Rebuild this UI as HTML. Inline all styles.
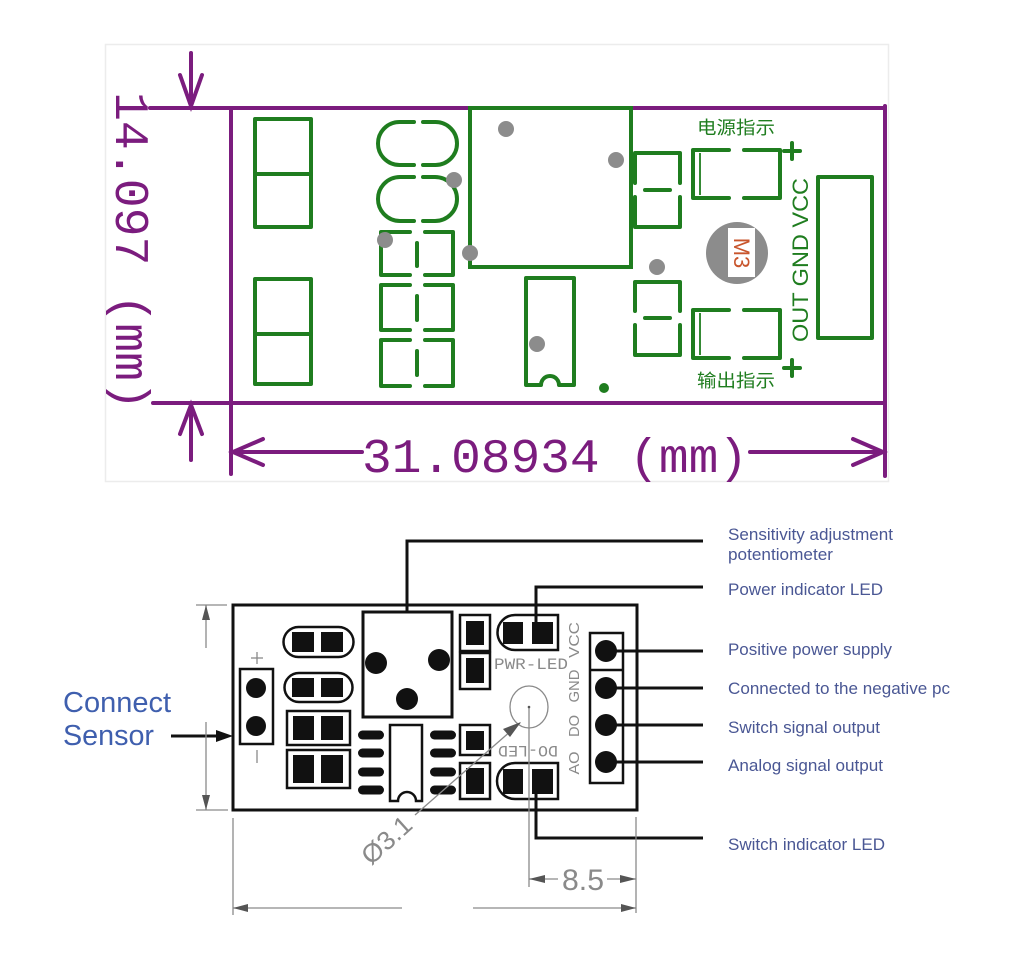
<!DOCTYPE html>
<html><head><meta charset="utf-8"><style>
html,body{margin:0;padding:0;background:#fff;}
svg{display:block;}
</style></head><body>
<svg width="1024" height="961" viewBox="0 0 1024 961" xmlns="http://www.w3.org/2000/svg">
<rect width="1024" height="961" fill="#fff"/>
<!-- faint frame -->
<rect x="105.5" y="44.5" width="783" height="437" fill="none" stroke="#ececec" stroke-width="1.5"/>

<!-- ===== TOP (purple/green) ===== -->
<g stroke="#7b1c7e" stroke-width="4" fill="none" stroke-linecap="round">
  <line x1="150" y1="108" x2="470" y2="108"/>
  <line x1="631" y1="108" x2="885" y2="108"/>
  <line x1="231" y1="108" x2="231" y2="474"/>
  <line x1="885" y1="106" x2="885" y2="476"/>
  <line x1="153" y1="403" x2="885" y2="403"/>
  <!-- vertical dim arrows -->
  <line x1="191" y1="53" x2="191" y2="106"/>
  <polyline points="180,75 191,106 202,75"/>
  <line x1="191" y1="405" x2="191" y2="460"/>
  <polyline points="180,434 191,405 202,434"/>
  <!-- horizontal dim -->
  <line x1="232" y1="452" x2="362" y2="452"/>
  <line x1="750" y1="452" x2="883" y2="452"/>
  <polyline points="263,439 233,452 263,465"/>
  <polyline points="853,439 883,452 853,465"/>
</g>
<text transform="translate(116,92) rotate(90)" font-family="Liberation Mono, DejaVu Sans Mono, monospace" font-size="48" fill="#7b1c7e" textLength="318" lengthAdjust="spacingAndGlyphs">14.097 (mm)</text>
<text x="362" y="472" font-family="Liberation Mono, DejaVu Sans Mono, monospace" font-size="48" fill="#7b1c7e" textLength="386" lengthAdjust="spacingAndGlyphs">31.08934 (mm)</text>

<g stroke="#1f7d1f" stroke-width="4" fill="none" stroke-linecap="round" stroke-linejoin="round">
  <rect x="255" y="119" width="56" height="108"/>
  <line x1="255" y1="174" x2="311" y2="174"/>
  <rect x="255" y="279" width="56" height="105"/>
  <line x1="255" y1="334" x2="311" y2="334"/>
  <!-- capsules -->
  <path d="M414 122 H399.5 A21.5 21.5 0 0 0 399.5 165 H414"/>
  <path d="M423 122 H435.5 A21.5 21.5 0 0 1 435.5 165 H423"/>
  <path d="M414 177 H400 A22 22 0 0 0 400 221 H414"/>
  <path d="M423 177 H435 A22 22 0 0 1 435 221 H423"/>
  <!-- brackets -->
  <path d="M410 232 H381 V275 H410"/><path d="M425 232 H453 V275 H425"/><line x1="417" y1="243" x2="417" y2="266"/>
  <path d="M410 285 H381 V330 H410"/><path d="M425 285 H453 V330 H425"/><line x1="417" y1="296" x2="417" y2="320"/>
  <path d="M410 340 H381 V386 H410"/><path d="M425 340 H453 V386 H425"/><line x1="417" y1="351" x2="417" y2="375"/>
  <!-- pot box -->
  <rect x="470" y="108" width="161" height="159" stroke-linecap="butt" stroke-linejoin="miter"/>
  <!-- IC -->
  <path d="M526 278 H574 V385 H559 A9 9 0 0 0 541 385 H526 Z"/>
  <!-- small parts -->
  <path d="M635 183 V153 H680 V183"/><line x1="645" y1="190" x2="670" y2="190"/><path d="M635 197 V227 H680 V197"/>
  <path d="M635 311 V282 H680 V311"/><line x1="645" y1="318" x2="670" y2="318"/><path d="M635 325 V355 H680 V325"/>
  <!-- LEDs -->
  <path d="M729 150 H693 V198 H729"/><path d="M744 150 H780 V198 H744"/>
  <path d="M729 310 H693 V358 H729"/><path d="M744 310 H780 V358 H744"/>
  <line x1="784" y1="151" x2="800" y2="151"/><line x1="792" y1="143" x2="792" y2="159"/>
  <line x1="784" y1="368" x2="800" y2="368"/><line x1="792" y1="360" x2="792" y2="376"/>
  <rect x="818" y="177" width="54" height="161"/>
</g>
<g stroke="#1f7d1f" stroke-width="1.8">
  <line x1="700" y1="153" x2="700" y2="195"/>
  <line x1="700" y1="313" x2="700" y2="355"/>
</g>
<circle cx="604" cy="388" r="5" fill="#1f7d1f"/>
<g fill="#8c8c8c">
  <circle cx="506" cy="129" r="8"/><circle cx="616" cy="160" r="8"/><circle cx="470" cy="253" r="8"/>
  <circle cx="454" cy="180" r="8"/><circle cx="385" cy="240" r="8"/><circle cx="537" cy="344" r="8"/>
  <circle cx="657" cy="267" r="8"/>
  <circle cx="737" cy="253" r="31"/>
</g>
<rect x="728" y="228" width="27" height="49" fill="#fff"/>
<text transform="translate(734,253) rotate(90)" text-anchor="middle" font-family="Liberation Sans, sans-serif" font-size="22" fill="#c8552c">M3</text>
<g font-family="Liberation Sans, Noto Sans CJK SC, sans-serif" font-size="18" fill="#1f7d1f">
  <text x="697" y="134" textLength="78" lengthAdjust="spacingAndGlyphs">电源指示</text>
  <text x="697" y="387" textLength="78" lengthAdjust="spacingAndGlyphs">输出指示</text>
</g>
<text transform="translate(808,342) rotate(-90)" font-family="Liberation Sans, sans-serif" font-size="22" fill="#1f7d1f" textLength="164" lengthAdjust="spacingAndGlyphs">OUT GND VCC</text>

<!-- ===== BOTTOM (black) ===== -->
<g stroke="#111" fill="none" stroke-width="3">
  <rect x="233" y="605" width="404" height="205"/>
  <rect x="363" y="612" width="89" height="105"/>
  <path d="M407 612 V541 H703"/>
  <path d="M536 630 V587 H703"/>
  <path d="M536 790 V838 H703"/>
  <line x1="606" y1="651" x2="703" y2="651"/>
  <line x1="606" y1="688" x2="703" y2="688"/>
  <line x1="606" y1="725" x2="703" y2="725"/>
  <line x1="606" y1="762" x2="703" y2="762"/>
  <line x1="171" y1="736" x2="222" y2="736"/>
</g>
<g stroke="#111" fill="none" stroke-width="2.5">
  <rect x="240" y="669" width="33" height="75"/>
  <path d="M298.5 627 H338.5 A15 15 0 0 1 338.5 657 H298.5 A15 15 0 0 1 298.5 627 Z"/>
  <path d="M299 673 H338 A14.5 14.5 0 0 1 338 702 H299 A14.5 14.5 0 0 1 299 673 Z"/>
  <rect x="287" y="711" width="63" height="34"/>
  <rect x="287" y="750" width="63" height="38"/>
  <path d="M390 725 H422 V801 H416 A9 9 0 0 0 398 801 H390 Z"/>
  <rect x="460" y="615" width="30" height="36"/>
  <rect x="460" y="653" width="30" height="36"/>
  <rect x="460" y="725" width="30" height="30"/>
  <rect x="460" y="763" width="30" height="36"/>
  <path d="M515 615 H558 V650 H515 A17.5 17.5 0 0 1 515 615 Z"/>
  <path d="M515 763 H558 V799 H515 A18 18 0 0 1 515 763 Z"/>
  <rect x="590" y="633" width="33" height="150"/>
  <line x1="590" y1="670" x2="623" y2="670"/>
</g>
<g fill="#111">
  <circle cx="256" cy="688" r="10"/><circle cx="256" cy="726" r="10"/>
  <rect x="292" y="632" width="22" height="20"/><rect x="321" y="632" width="22" height="20"/>
  <rect x="292" y="678" width="22" height="19"/><rect x="321" y="678" width="22" height="19"/>
  <rect x="293" y="716" width="21" height="24"/><rect x="321" y="716" width="22" height="24"/>
  <rect x="293" y="755" width="21" height="28"/><rect x="321" y="755" width="22" height="28"/>
  <circle cx="376" cy="663" r="11"/><circle cx="439" cy="660" r="11"/><circle cx="407" cy="699" r="11"/>
  <rect x="358" y="730.5" width="26" height="9" rx="4.5"/><rect x="358" y="748.5" width="26" height="9" rx="4.5"/>
  <rect x="358" y="767.5" width="26" height="9" rx="4.5"/><rect x="358" y="785.5" width="26" height="9" rx="4.5"/>
  <rect x="430" y="730.5" width="26" height="9" rx="4.5"/><rect x="430" y="748.5" width="26" height="9" rx="4.5"/>
  <rect x="430" y="767.5" width="26" height="9" rx="4.5"/><rect x="430" y="785.5" width="26" height="9" rx="4.5"/>
  <rect x="466" y="621" width="18" height="24"/><rect x="466" y="658" width="18" height="25"/>
  <rect x="466" y="731" width="18" height="19"/><rect x="466" y="768" width="18" height="26"/>
  <rect x="503" y="622" width="20" height="22"/><rect x="532" y="622" width="21" height="22"/>
  <rect x="503" y="769" width="20" height="25"/><rect x="532" y="769" width="21" height="25"/>
  <circle cx="606" cy="651" r="11"/><circle cx="606" cy="688" r="11"/>
  <circle cx="606" cy="725" r="11"/><circle cx="606" cy="762" r="11"/>
  <polygon points="233,736 216,730 216,742"/>
</g>
<!-- gray annotations -->
<g stroke="#8a8a8a" stroke-width="1.3" fill="none">
  <line x1="251" y1="658" x2="263" y2="658"/><line x1="257" y1="652" x2="257" y2="664"/>
  <line x1="257" y1="750" x2="257" y2="763"/>
  <ellipse cx="529" cy="707" rx="19" ry="21"/>
  <line x1="529" y1="707" x2="529" y2="887"/>
  <line x1="520" y1="723" x2="415" y2="815"/>
  <line x1="196" y1="605" x2="227" y2="605"/>
  <line x1="196" y1="810" x2="228" y2="810"/>
  <line x1="206" y1="605" x2="206" y2="648"/>
  <line x1="206" y1="722" x2="206" y2="810"/>
  <line x1="233" y1="818" x2="233" y2="915"/>
  <line x1="636" y1="817" x2="636" y2="913"/>
  <line x1="233" y1="908" x2="402" y2="908"/>
  <line x1="473" y1="908" x2="636" y2="908"/>
  <line x1="529" y1="879" x2="558" y2="879"/>
  <line x1="607" y1="879" x2="636" y2="879"/>
</g>
<g fill="#555">
  <circle cx="529" cy="707" r="1.3"/>
  <polygon points="521,722 503,729 510,737"/>
  <polygon points="206,605 202,620 210,620"/>
  <polygon points="206,810 202,795 210,795"/>
  <polygon points="233,908 248,904 248,912"/>
  <polygon points="636,908 621,904 621,912"/>
  <polygon points="529,879 545,875 545,883"/>
  <polygon points="636,879 620,875 620,883"/>
</g>
<g font-family="Liberation Mono, DejaVu Sans Mono, monospace" fill="#8a8a8a">
  <text x="494" y="669" font-size="16" textLength="74" lengthAdjust="spacingAndGlyphs">PWR-LED</text>
  <text transform="translate(528,752) rotate(180)" text-anchor="middle" y="6" font-size="16" textLength="60" lengthAdjust="spacingAndGlyphs">DO-LED</text>
</g>
<g font-family="Liberation Sans, sans-serif" fill="#8a8a8a" font-size="15">
  <text transform="translate(579,640) rotate(-90)" text-anchor="middle" textLength="36" lengthAdjust="spacingAndGlyphs">VCC</text>
  <text transform="translate(579,686) rotate(-90)" text-anchor="middle" textLength="33" lengthAdjust="spacingAndGlyphs">GND</text>
  <text transform="translate(579,726) rotate(-90)" text-anchor="middle" textLength="22" lengthAdjust="spacingAndGlyphs">DO</text>
  <text transform="translate(579,763) rotate(-90)" text-anchor="middle" textLength="23" lengthAdjust="spacingAndGlyphs">AO</text>
  <text x="583" y="890" font-size="30" text-anchor="middle" textLength="42" lengthAdjust="spacingAndGlyphs">8.5</text>
  <text transform="translate(371,866) rotate(-42)" font-size="26" textLength="58" lengthAdjust="spacingAndGlyphs">Ø3.1</text>
</g>
<g font-family="Liberation Sans, sans-serif" fill="#3f5fae" font-size="29">
  <text x="63" y="712" textLength="108" lengthAdjust="spacingAndGlyphs">Connect</text>
  <text x="63" y="745" textLength="91" lengthAdjust="spacingAndGlyphs">Sensor</text>
</g>
<g font-family="Liberation Sans, sans-serif" fill="#4a5794" font-size="16.5" lengthAdjust="spacingAndGlyphs">
  <text x="728" y="540" textLength="165" lengthAdjust="spacingAndGlyphs">Sensitivity adjustment</text>
  <text x="728" y="560" textLength="105" lengthAdjust="spacingAndGlyphs">potentiometer</text>
  <text x="728" y="595" textLength="155" lengthAdjust="spacingAndGlyphs">Power indicator LED</text>
  <text x="728" y="655" textLength="164" lengthAdjust="spacingAndGlyphs">Positive power supply</text>
  <text x="728" y="694" textLength="222" lengthAdjust="spacingAndGlyphs">Connected to the negative pc</text>
  <text x="728" y="733" textLength="152" lengthAdjust="spacingAndGlyphs">Switch signal output</text>
  <text x="728" y="771" textLength="155" lengthAdjust="spacingAndGlyphs">Analog signal output</text>
  <text x="728" y="850" textLength="157" lengthAdjust="spacingAndGlyphs">Switch indicator LED</text>
</g>
</svg>
</body></html>
